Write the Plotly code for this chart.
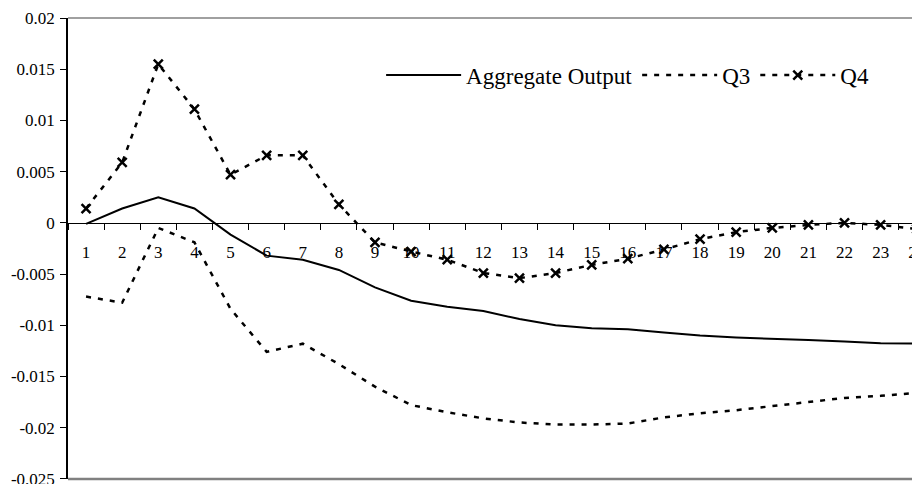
import plotly.graph_objects as go

periods = [str(i) for i in range(1, 25)]

aggregate_output = [-0.0001, 0.0014, 0.0025, 0.0014, -0.00115, -0.0032, -0.0036, -0.0046,
                    -0.0063, -0.0076, -0.0082, -0.0086, -0.0094, -0.0100, -0.0103, -0.0104,
                    -0.0107, -0.0110, -0.0112, -0.0113, -0.01145, -0.0116, -0.01175, -0.0118]

q3 = [-0.0072, -0.0078, -0.0005, -0.0019, -0.0084, -0.0126, -0.0118, -0.0138,
      -0.0160, -0.0178, -0.0185, -0.0191, -0.0195, -0.0197, -0.0197, -0.0196,
      -0.0190, -0.0186, -0.0183, -0.0179, -0.0175, -0.0171, -0.0169, -0.0166]

q4 = [0.0014, 0.0059, 0.0155, 0.0111, 0.0047, 0.0066, 0.0066, 0.0018,
      -0.0019, -0.0028, -0.0036, -0.0049, -0.0054, -0.0049, -0.0041, -0.0035,
      -0.0026, -0.0016, -0.0009, -0.0005, -0.0002, 0.0000, -0.0002, -0.0006]

y_tickvals = [0.02, 0.015, 0.01, 0.005, 0, -0.005, -0.01, -0.015, -0.02, -0.025]
y_ticktext = ["0.02", "0.015", "0.01", "0.005", "0", "-0.005", "-0.01", "-0.015", "-0.02", "-0.025"]

FONT = "Liberation Serif, Times New Roman, serif"

fig = go.Figure()
fig.add_trace(go.Scatter(x=periods, y=aggregate_output, mode="lines", name="Aggregate Output",
                         line=dict(color="black", width=2)))
fig.add_trace(go.Scatter(x=periods, y=q3, mode="lines", name="Q3",
                         line=dict(color="black", width=2.5, dash="5px,7px")))
fig.add_trace(go.Scatter(x=periods, y=q4, mode="lines+markers", name="Q4",
                         line=dict(color="black", width=2.5, dash="5px,7px"),
                         marker=dict(symbol="x-thin", size=9, color="black",
                                     line=dict(color="black", width=2.5))))

# page body has an 8px default margin: compensate so the chart sits at the window origin
fig.update_layout(
    width=912, height=476,
    margin=dict(l=60, r=0, t=10, b=5, autoexpand=False),
    paper_bgcolor="white", plot_bgcolor="white",
    font=dict(family=FONT, size=17, color="black"),
    showlegend=True,
    legend=dict(orientation="h", x=0.3675, y=0.876, xanchor="left", yanchor="middle",
                font=dict(family=FONT, size=23, color="black"),
                bgcolor="rgba(0,0,0,0)", itemwidth=75, traceorder="normal"),
    xaxis=dict(type="category", range=[-0.5, 23.09], anchor="free", position=5/9,
               automargin=False, ticklabeloverflow="allow",
               showline=True, linecolor="black", linewidth=1,
               ticks="outside", tickson="boundaries", ticklen=6, tickcolor="black", tickwidth=1,
               ticklabelstandoff=14,
               showgrid=False, zeroline=False,
               tickfont=dict(family=FONT, size=17, color="black")),
    yaxis=dict(range=[-0.02502, 0.02001], tickvals=y_tickvals, ticktext=y_ticktext,
               automargin=False, ticklabeloverflow="allow",
               showline=True, linecolor="black", linewidth=1.5,
               ticks="outside", ticklen=6, tickcolor="black", tickwidth=1,
               ticklabelstandoff=2,
               showgrid=False, zeroline=False,
               tickfont=dict(family=FONT, size=17, color="black")),
    shapes=[
        dict(type="line", xref="paper", yref="paper", x0=0, x1=1, y0=1, y1=1,
             line=dict(color="#808080", width=1.5)),
        dict(type="line", xref="paper", yref="paper", x0=0, x1=1, y0=0, y1=0,
             line=dict(color="#808080", width=2.5)),
    ],
)

fig.write_html("out.html")
